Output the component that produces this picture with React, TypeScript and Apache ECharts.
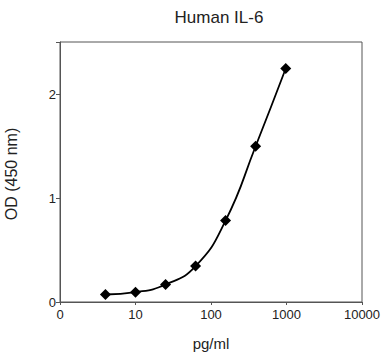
import React, { useEffect, useRef } from "react";
import * as echarts from "echarts";

const concentrations = [4, 10, 25, 62.5, 156, 390, 977];
const odValues = [0.072, 0.094, 0.168, 0.345, 0.783, 1.498, 2.245];
const yTicks = [0, 1, 2];

const FONT = "'Liberation Sans', Arial, Helvetica, sans-serif";

export default function App() {
  const ref = useRef<HTMLDivElement>(null);
  useEffect(() => {
    if (!ref.current) return;
    const chart = echarts.init(ref.current, undefined, { renderer: "svg" });
    chart.setOption({
      animation: false,
      backgroundColor: "#ffffff",
      title: {
        text: "Human IL-6",
        left: 214,
        textAlign: "center",
        top: 4,
        textStyle: { fontFamily: FONT, fontSize: 17, fontWeight: "normal", color: "#222" },
      },
      grid: {
        left: 60,
        right: 22,
        top: 42,
        bottom: 54,
        show: true,
        borderColor: "#555",
        borderWidth: 1,
        backgroundColor: "transparent",
      },
      xAxis: {
        type: "log",
        logBase: 10,
        min: 1,
        max: 10000,
        name: "pg/ml",
        nameLocation: "middle",
        nameGap: 34,
        nameTextStyle: { fontFamily: FONT, fontSize: 15, color: "#222" },
        axisLine: { lineStyle: { color: "#555", width: 1 } },
        axisTick: { show: true, length: 3, lineStyle: { color: "#555" } },
        minorTick: { show: false },
        splitLine: { show: false },
        axisLabel: {
          fontFamily: FONT,
          fontSize: 13,
          color: "#222",
          margin: 6,
          formatter: (v: number) => (v === 1 ? "0" : String(Math.round(v))),
        },
      },
      yAxis: {
        type: "value",
        min: 0,
        max: 2.5,
        interval: 1,
        axisLine: { show: true, lineStyle: { color: "#555", width: 1 } },
        axisTick: { show: true, length: 4, lineStyle: { color: "#555" } },
        splitLine: { show: false },
        axisLabel: {
          fontFamily: FONT,
          fontSize: 13,
          color: "#222",
          margin: 4,
          formatter: (v: number) => (yTicks.includes(v) ? String(v) : ""),
        },
      },
      graphic: [
        {
          type: "text",
          x: 11,
          y: 174,
          rotation: Math.PI / 2,
          style: {
            text: "OD (450 nm)",
            fontFamily: FONT,
            fontSize: 16,
            fill: "#222",
            align: "center",
            verticalAlign: "middle",
          },
        },
      ],
      series: [
        {
          type: "line",
          data: concentrations.map((c, i) => [c, odValues[i]]),
          smooth: 0.5,
          symbol: "diamond",
          symbolSize: 11,
          itemStyle: { color: "#000" },
          lineStyle: { color: "#000", width: 1.8 },
        },
      ],
    });
    return () => chart.dispose();
  }, []);
  return <div ref={ref} style={{ width: 384, height: 356, position: "absolute", left: 0, top: 0 }} />;
}
